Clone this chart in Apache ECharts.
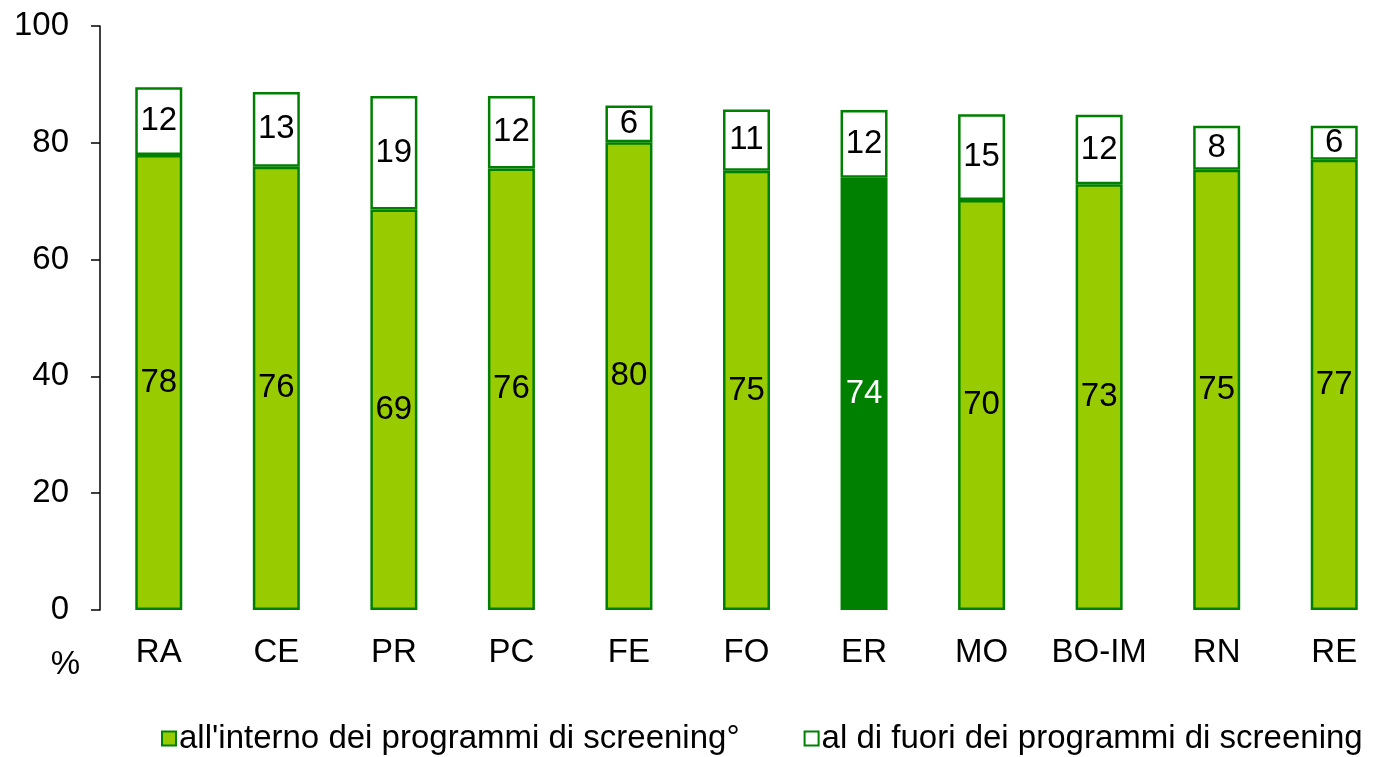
<!DOCTYPE html>
<html><head><meta charset="utf-8">
<script src="https://cdn.jsdelivr.net/npm/echarts@6/dist/echarts.min.js"></script>
<style>html,body{margin:0;padding:0;background:#fff}#c{width:1393px;height:757px}</style>
</head><body><div id="c"></div>
<script>
const categories = ['RA','CE','PR','PC','FE','FO','ER','MO','BO-IM','RN','RE'];
const inside = [77.9, 75.9, 68.6, 75.6, 80.1, 75.2, 74.0, 70.2, 72.9, 75.4, 77.1];
const outside = [11.6, 12.8, 19.4, 12.4, 6.3, 10.5, 11.6, 14.7, 11.9, 7.5, 5.8];
const seriesNames = ["all'interno dei programmi di screening°", "al di fuori dei programmi di screening"];
const highlightCat = 'ER';
const yTicks = [0, 20, 40, 60, 80, 100];

const FONT = 'Liberation Sans, Arial, sans-serif';
const FS = 33;
const chart = echarts.init(document.getElementById('c'));
chart.setOption({
  animation: false,
  textStyle: {fontFamily: FONT},
  grid: {left: 100, top: 26, width: 1317, bottom: 147, containLabel: false},
  legend: {
    left: 156, top: 717, itemWidth: 14, itemHeight: 14, itemGap: 64,
    icon: 'rect',
    textStyle: {fontSize: FS, color: '#000', fontFamily: FONT, padding: [0,0,0,-2]},
    data: seriesNames
  },
  xAxis: {
    type: 'category', data: categories,
    axisLine: {show: false}, axisTick: {show: false},
    axisLabel: {fontSize: FS, color: '#000', margin: 26, interval: 0, fontFamily: FONT}
  },
  yAxis: {
    type: 'value', min: yTicks[0], max: yTicks[yTicks.length-1], interval: 20,
    name: '%', nameLocation: 'start', nameGap: 38,
    nameTextStyle: {fontSize: FS, color: '#000', align: 'right', padding: [0, 20, 0, 0], fontFamily: FONT},
    axisLine: {show: true, lineStyle: {color: '#000', width: 1.5}},
    axisTick: {show: true, inside: false, length: 9, lineStyle: {color: '#000', width: 1.5}},
    splitLine: {show: false},
    axisLabel: {fontSize: FS, color: '#000', margin: 31, fontFamily: FONT}
  },
  series: [
    {
      name: seriesNames[0], type: 'bar', stack: 'tot', barWidth: 47,
      itemStyle: {color: '#99CC00', borderColor: '#008000', borderWidth: 2.5},
      label: {show: true, position: 'inside', fontSize: FS, color: '#000', fontFamily: FONT,
        formatter: p => Math.round(p.value)},
      data: inside.map((v, i) => categories[i] === highlightCat
        ? {value: v, itemStyle: {color: '#008000'}, label: {color: '#fff'}}
        : v)
    },
    {
      name: seriesNames[1], type: 'bar', stack: 'tot', barWidth: 47,
      itemStyle: {color: '#fff', borderColor: '#008000', borderWidth: 2.5},
      label: {show: true, position: 'inside', fontSize: FS, color: '#000', fontFamily: FONT,
        formatter: p => Math.round(p.value)},
      data: outside
    }
  ]
});
</script></body></html>
